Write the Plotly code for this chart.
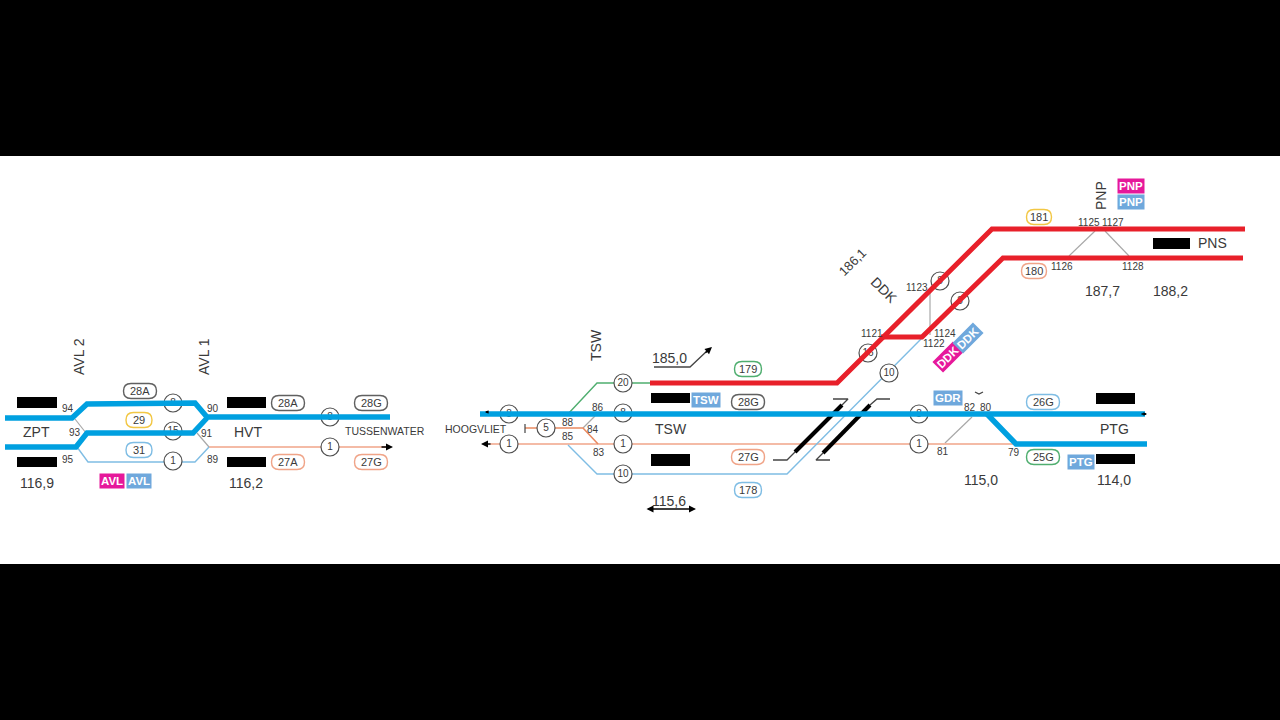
import plotly.graph_objects as go

# ---- colours
BLUE = "#00a0e0"; RED = "#e8202a"; PALE = "#7fbde4"; ORANGE = "#f0a488"; GREEN = "#4fae6f"
GREY = "#a8a8a8"; DARK = "#3a3a3a"; YELLOW = "#f2c744"; PILLGREY = "#606060"; BOXBLUE = "#6fa8dc"; PINK = "#e6189a"

# ---- track geometry, as (x, y) in picture units
thick_blue_upper_left_x = [5, 72, 87, 195, 207, 390]
thick_blue_upper_left_y = [418, 418, 404, 403, 417, 417]
thick_blue_lower_left_x = [5, 76, 87, 193, 207]
thick_blue_lower_left_y = [447, 447, 433, 433, 418]
thick_blue_main_x = [480, 1145]
thick_blue_main_y = [414, 414]
thick_blue_ptg_x = [987, 1016, 1147]
thick_blue_ptg_y = [414, 444, 444]
thick_red_upper_x = [650, 837, 992, 1245]
thick_red_upper_y = [383, 383, 229, 229]
thick_red_lower_x = [881, 922, 1003, 1243]
thick_red_lower_y = [337, 337, 258, 258]
thick_black_1_x = [795, 842]
thick_black_1_y = [452, 405]
thick_black_2_x = [823, 870]
thick_black_2_y = [453, 405]

thin_blue_31_x = [77, 88, 195, 209]
thin_blue_31_y = [447, 462, 462, 447]
thin_blue_178_x = [568, 597, 787, 922]
thin_blue_178_y = [445, 474, 474, 338]
thin_green_x = [568, 597, 650]
thin_green_y = [414, 383, 383]
thin_orange_left_x = [209, 388]
thin_orange_left_y = [447, 447]
thin_orange_main_x = [490, 1016]
thin_orange_main_y = [444, 444]
thin_orange_five_x = [525, 583, 598]
thin_orange_five_y = [428, 428, 444]
thin_orange_stop_x = [525, 525]
thin_orange_stop_y = [424, 433]

grey_links_x = [[75, 86], [197, 209], [583, 595], [930, 930], [972, 945], [1095, 1069], [1105, 1129]]
grey_links_y = [[419, 433], [433, 447], [428, 416], [290, 335], [417, 443], [231, 256], [231, 256]]

dark_links_x = [[833, 848, 842], [773, 787, 800], [870, 877, 890], [830, 816, 823], [654, 690, 708], [975, 979, 983]]
dark_links_y = [[399, 399, 405], [460, 460, 447], [405, 399, 399], [460, 460, 453], [367, 367, 350], [392, 394, 392]]

# ---- numbered signals
circle_x = [173, 173, 173, 330, 330, 509, 546, 509, 623, 623, 623, 623, 889, 868, 940, 960, 919, 919]
circle_y = [403, 431, 461, 417, 447, 414, 428, 444, 383, 413, 444, 474, 373, 353, 281, 301, 414, 444]
circle_labels = ["8", "15", "1", "8", "1", "8", "5", "1", "20", "8", "1", "10", "10", "16", "8", "8", "8", "1"]

# ---- track-number pills
pill_labels = ["28A", "29", "31", "28A", "28G", "27A", "27G", "179", "28G", "27G", "178", "26G", "25G", "181", "180"]
pill_x = [140, 139, 139, 288, 371, 288, 371, 748, 748, 748, 748, 1043, 1043, 1039, 1034]
pill_y = [391, 420, 450, 403, 403, 462, 462, 369, 402, 457, 490, 402, 457, 217, 271]
pill_w = [33, 26, 26, 33, 33, 33, 33, 27, 33, 33, 27, 33, 33, 25, 25]
pill_colors = [PILLGREY, YELLOW, PALE, PILLGREY, PILLGREY, ORANGE, ORANGE, GREEN, PILLGREY,
               ORANGE, PALE, PALE, GREEN, YELLOW, ORANGE]

# ---- redacted black bars
bar_x0 = [17, 17, 227, 227, 651, 651, 1096, 1096, 1153]
bar_x1 = [57, 57, 266, 266, 690, 690, 1135, 1135, 1190]
bar_y0 = [397, 457, 397, 457, 393, 454, 393, 454, 238]
bar_y1 = [408, 467, 408, 467, 403, 466, 404, 464, 249]

# ---- text
large_labels = ["ZPT", "116,9", "HVT", "116,2", "TSW", "185,0", "115,6", "115,0", "PTG", "114,0", "PNS", "187,7", "188,2"]
large_x = [36, 37, 248, 246, 671, 669, 669, 981, 1114, 1114, 1212, 1102, 1170]
large_y = [432, 483, 432, 483, 429, 358, 501, 480, 429, 480, 243, 291, 291]

small_labels = ["94", "93", "95", "90", "91", "89", "88", "85", "86", "84", "83", "82", "80", "81", "79",
                "1123", "1121", "1124", "1122", "1125", "1127", "1126", "1128"]
small_x = [68, 75, 68, 213, 207, 213, 568, 568, 598, 593, 599, 970, 986, 943, 1014,
           917, 872, 945, 934, 1089, 1113, 1062, 1133]
small_y = [408, 432, 459, 408, 433, 459, 422, 436, 407, 429, 452, 407, 407, 451, 452,
           287, 333, 333, 343, 222, 222, 266, 266]

wide_labels = ["TUSSENWATER", "HOOGVLIET"]
wide_x = [385, 476]
wide_y = [431, 429]

rotated_labels = ["AVL 2", "AVL 1", "TSW", "PNP", "186,1", "DDK"]
rotated_x = [79, 204, 596, 1101, 852, 884]
rotated_y = [357, 357, 345, 196, 262, 290]
rotated_angle = [-90, -90, -90, -90, -45, 45]
rotated_size = [14, 14, 14, 14, 13, 14]

box_labels = ["AVL", "AVL", "TSW", "GDR", "PTG", "PNP", "PNP", "DDK", "DDK"]
box_x = [111.5, 138.5, 705.5, 948, 1081, 1130.5, 1130.5, 948, 968]
box_y = [480.5, 480.5, 399.5, 398, 461.5, 185.5, 201.5, 357, 338]
box_colors = [PINK, BOXBLUE, BOXBLUE, BOXBLUE, BOXBLUE, PINK, BOXBLUE, PINK, BOXBLUE]
box_angle = [0, 0, 0, 0, 0, 0, 0, -45, -45]

# arrows: tip x, tip y, tail x, tail y, sides, head scale
arrow_tip_x = [393, 481, 712, 696, 1147, 485]
arrow_tip_y = [447, 444, 347, 509, 414, 412]
arrow_tail_x = [380, 492, 704, 645, 1140, 490]
arrow_tail_y = [447, 444, 354, 509, 414, 412]
arrow_sides = ["end", "end", "end", "end+start", "end", "end"]
arrow_scale = [1.0, 1.0, 1.0, 1.0, 0.5, 0.5]

FONT = "Liberation Sans"
fig = go.Figure()


def line(xs, ys, color, width):
    fig.add_trace(go.Scatter(x=xs, y=ys, mode="lines", hoverinfo="skip",
                             line=dict(color=color, width=width)))


for xs, ys in zip(grey_links_x, grey_links_y):
    line(xs, ys, GREY, 1.2)
for xs, ys in zip(dark_links_x, dark_links_y):
    line(xs, ys, "#444444", 1.3)
line(thin_orange_left_x, thin_orange_left_y, ORANGE, 1.4)
line(thin_orange_main_x, thin_orange_main_y, ORANGE, 1.4)
line(thin_orange_five_x, thin_orange_five_y, "#e98a62", 1.6)
line(thin_orange_stop_x, thin_orange_stop_y, "#444444", 1.2)
line(thin_blue_31_x, thin_blue_31_y, PALE, 1.4)
line(thin_blue_178_x, thin_blue_178_y, PALE, 1.4)
line(thin_green_x, thin_green_y, GREEN, 1.4)

fig.add_trace(go.Scatter(
    x=circle_x, y=circle_y, text=circle_labels, mode="markers+text", hoverinfo="skip",
    textposition="middle center", textfont=dict(family=FONT, size=10, color=DARK),
    marker=dict(size=18, color="white", line=dict(color="#505050", width=1.2))))

line(thick_black_1_x, thick_black_1_y, "black", 4)
line(thick_black_2_x, thick_black_2_y, "black", 4)
line(thick_blue_upper_left_x, thick_blue_upper_left_y, BLUE, 5.4)
line(thick_blue_lower_left_x, thick_blue_lower_left_y, BLUE, 5.4)
line(thick_blue_main_x, thick_blue_main_y, BLUE, 5.4)
line(thick_blue_ptg_x, thick_blue_ptg_y, BLUE, 5.4)
line(thick_red_upper_x, thick_red_upper_y, RED, 5)
line(thick_red_lower_x, thick_red_lower_y, RED, 5)

shapes = [dict(type="rect", xref="x", yref="y", x0=0, x1=1280, y0=156, y1=564,
               fillcolor="white", line_width=0, layer="below")]
for x0, x1, y0, y1 in zip(bar_x0, bar_x1, bar_y0, bar_y1):
    shapes.append(dict(type="rect", xref="x", yref="y", x0=x0, x1=x1, y0=y0, y1=y1,
                       fillcolor="black", line_width=0, layer="below"))
PILL_H = 15
for cx, cy, w, col in zip(pill_x, pill_y, pill_w, pill_colors):
    r = PILL_H / 2
    l, t = cx - w / 2, cy - r
    rr, b = cx + w / 2, cy + r
    path = (f"M{l + r},{t} L{rr - r},{t} Q{rr},{t} {rr},{cy} Q{rr},{b} {rr - r},{b} "
            f"L{l + r},{b} Q{l},{b} {l},{cy} Q{l},{t} {l + r},{t} Z")
    shapes.append(dict(type="path", xref="x", yref="y", path=path, fillcolor="white",
                       line=dict(color=col, width=1.4), layer="below"))

ann = []


def text(s, x, y, size, color=DARK, angle=0, **kw):
    ann.append(dict(text=s, x=x, y=y, xref="x", yref="y", showarrow=False, textangle=angle,
                    xanchor="center", yanchor="middle",
                    font=dict(family=FONT, size=size, color=color), **kw))


for s, x, y in zip(large_labels, large_x, large_y):
    text(s, x, y, 14)
for s, x, y in zip(small_labels, small_x, small_y):
    text(s, x, y, 10)
for s, x, y in zip(wide_labels, wide_x, wide_y):
    text(s, x, y, 10.5)
for s, x, y, a, z in zip(rotated_labels, rotated_x, rotated_y, rotated_angle, rotated_size):
    text(s, x, y, z, angle=a)
for s, x, y in zip(pill_labels, pill_x, pill_y):
    text(s, x, y, 11)
for s, x, y, c, a in zip(box_labels, box_x, box_y, box_colors, box_angle):
    text(f"<b>{s}</b>", x, y, 11.5, color="white", angle=a, bgcolor=c, borderpad=1)

for tx, ty, ax, ay, side, z in zip(arrow_tip_x, arrow_tip_y, arrow_tail_x, arrow_tail_y, arrow_sides, arrow_scale):
    ann.append(dict(text="", x=tx, y=ty, ax=ax, ay=ay, xref="x", yref="y", axref="x", ayref="y",
                    showarrow=True, arrowhead=2, arrowside=side, arrowsize=z, arrowwidth=1.4,
                    arrowcolor="black"))

fig.update_layout(
    width=1280, height=720, autosize=False, showlegend=False,
    margin=dict(l=0, r=0, t=0, b=0), paper_bgcolor="black", plot_bgcolor="black",
    xaxis=dict(range=[0, 1280], visible=False, fixedrange=True),
    yaxis=dict(range=[720, 0], visible=False, fixedrange=True),
    shapes=shapes, annotations=ann)

fig.write_html("out.html", config={"displayModeBar": False},
               post_script="document.body.style.margin='0';document.body.style.background='black';")
